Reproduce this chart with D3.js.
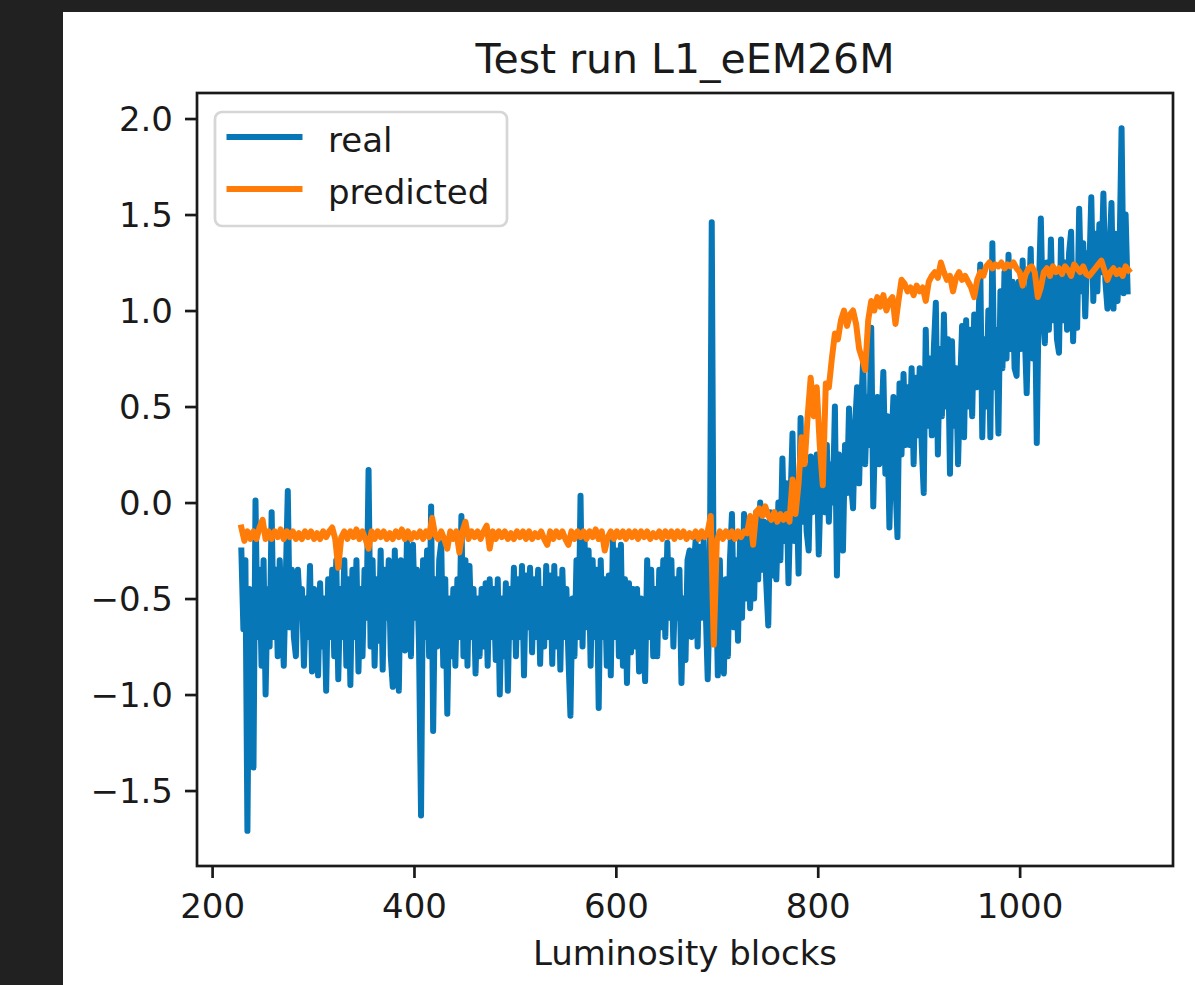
<!DOCTYPE html>
<html><head><meta charset="utf-8">
<script src="https://cdn.jsdelivr.net/npm/d3@7"></script>
<style>html,body{margin:0;padding:0;background:#212121;}svg{display:block}</style>
</head><body>
<svg id="chart" width="1195" height="985"></svg>
<script>
const chartTitle = "Test run L1_eEM26M";
const xLabel = "Luminosity blocks";
const seriesNames = ["real", "predicted"];
const realStart = 229, realStep = 2;
const predStart = 229, predStep = 3;
const xTicks = [200, 400, 600, 800, 1000];
const yTicks = [-1.5, -1.0, -0.5, 0.0, 0.5, 1.0, 1.5, 2.0];

const realValues = [
 -0.25,-0.66,-0.3,-1.71,-0.45,-0.75,-1.38,0.01,-0.7,-0.35,-0.85,-0.3,-1.0,-0.45,-0.75,
 -0.05,-0.7,-0.35,-0.8,-0.3,-0.6,-0.85,-0.4,0.06,-0.65,-0.35,-0.7,-0.8,-0.35,-0.55,
 -0.45,-0.85,-0.5,-0.7,-0.33,-0.88,-0.45,-0.65,-0.9,-0.42,-0.75,-0.5,-0.98,-0.4,-0.7,
 -0.35,-0.8,-0.3,-0.92,-0.45,-0.7,-0.3,-0.85,-0.4,-0.95,-0.35,-0.7,-0.3,-0.88,-0.45,
 -0.8,-0.35,-0.6,0.17,-0.75,-0.3,-0.85,-0.4,-0.72,-0.25,-0.87,-0.35,-0.6,-0.3,-0.8,
 -0.96,-0.25,-0.7,-0.98,-0.3,-0.6,-0.77,-0.2,-0.55,-0.8,-0.22,-0.6,-0.35,-0.75,-1.63,
 -0.3,-0.7,-0.25,-0.8,-0.02,-1.19,-0.4,-0.75,-0.3,-0.21,-0.85,-0.4,-1.1,-0.5,-0.8,
 -0.45,-0.85,-0.4,-0.7,-0.07,-0.8,-0.3,-0.85,-0.33,-0.7,-0.45,-0.89,-0.5,-0.8,-0.45,
 -0.75,-0.42,-0.85,-0.4,-0.7,-0.45,-0.82,-0.4,-1.0,-0.5,-0.8,-0.42,-0.98,-0.45,-0.7,
 -0.34,-0.8,-0.4,-0.7,-0.33,-0.9,-0.38,-0.65,-0.34,-0.78,-0.4,-0.7,-0.35,-0.84,-0.45,
 -0.75,-0.33,-0.7,-0.38,-0.84,-0.33,-0.75,-0.4,-0.87,-0.35,-0.7,-0.45,-0.8,-1.11,-0.5,
 -0.8,-0.3,-0.7,0.035,-0.75,-0.2,-0.65,-0.25,-0.85,-0.3,-0.7,-0.35,-1.07,-0.3,-0.7,
 -0.4,-0.85,-0.38,-0.9,-0.2,-0.7,-0.25,-0.8,-0.22,-0.85,-0.4,-0.94,-0.42,-0.78,-0.45,
 -0.75,-0.45,-0.88,-0.5,-0.7,-0.93,-0.3,-0.7,-0.35,-0.8,-0.45,-0.8,-0.35,-0.65,-0.3,
 -0.7,-0.21,-0.6,-0.3,-0.75,-0.4,-0.6,-0.35,-0.94,-0.5,-0.82,-0.3,-0.25,-0.7,-0.35,
 -0.2,-0.75,-0.23,-0.6,-0.2,-0.55,-0.92,-0.5,1.46,-0.6,-0.3,-0.9,-0.3,-0.8,-0.89,
 -0.4,-0.8,-0.3,-0.06,-0.65,-0.3,-0.72,-0.2,-0.6,-0.06,-0.5,-0.1,-0.55,-0.2,-0.5,
 -0.05,-0.4,0.0,-0.35,-0.1,-0.42,-0.64,-0.05,-0.38,-0.1,-0.4,0.0,-0.3,0.23,-0.2,
 0.1,-0.42,0.0,0.36,-0.2,0.1,-0.37,0.44,-0.1,0.2,-0.15,-0.25,0.24,-0.05,0.15,
 0.25,-0.27,0.1,0.28,-0.05,0.3,-0.1,0.2,0.0,0.5,-0.38,0.25,0.0,-0.25,0.3,
 0.05,0.49,0.1,-0.03,0.4,0.6,0.1,0.5,0.74,0.2,0.55,0.3,0.91,-0.02,0.4,
 0.55,0.2,0.4,0.68,0.15,0.45,-0.13,0.3,0.55,0.1,-0.18,0.62,0.25,0.67,0.3,
 0.6,0.3,0.7,0.2,0.65,0.35,0.7,0.3,0.05,0.9,0.4,0.75,0.35,0.8,1.04,
 0.25,0.8,0.45,0.98,0.5,0.85,0.15,0.84,0.4,0.7,0.2,0.6,0.92,0.34,0.95,
 0.5,0.9,0.45,0.98,0.6,0.9,1.24,0.34,0.85,0.5,1.0,0.34,1.35,0.6,0.9,
 0.36,1.1,0.7,1.2,0.75,1.29,0.8,1.15,0.7,0.66,1.15,0.8,1.26,0.9,0.57,
 1.0,1.32,0.75,1.15,0.31,1.1,1.48,1.0,0.83,1.25,0.9,1.37,0.95,1.2,0.85,
 0.78,1.37,0.95,1.25,0.9,1.3,1.41,0.84,1.2,0.91,1.53,1.1,1.35,0.97,1.3,
 1.2,1.59,1.05,1.4,1.1,1.45,1.2,1.61,1.15,1.01,1.3,1.56,1.01,1.4,1.05,
 1.3,1.95,1.09,1.5,1.1
];

const predictedValues = [
 -0.13,-0.2,-0.15,-0.19,-0.15,-0.19,-0.13,-0.09,-0.19,-0.15,
 -0.19,-0.15,-0.18,-0.14,-0.19,-0.15,-0.18,-0.15,-0.19,-0.16,
 -0.19,-0.15,-0.18,-0.15,-0.19,-0.16,-0.19,-0.15,-0.18,-0.15,
 -0.13,-0.19,-0.34,-0.18,-0.15,-0.19,-0.15,-0.18,-0.14,-0.19,
 -0.15,-0.19,-0.24,-0.15,-0.19,-0.15,-0.18,-0.15,-0.19,-0.16,
 -0.19,-0.15,-0.18,-0.14,-0.19,-0.15,-0.19,-0.16,-0.18,-0.15,
 -0.19,-0.15,-0.18,-0.08,-0.17,-0.19,-0.15,-0.19,-0.24,-0.15,
 -0.19,-0.15,-0.26,-0.15,-0.1,-0.19,-0.15,-0.18,-0.15,-0.19,
 -0.15,-0.12,-0.24,-0.15,-0.19,-0.15,-0.18,-0.15,-0.19,-0.16,
 -0.19,-0.15,-0.18,-0.15,-0.19,-0.15,-0.19,-0.16,-0.18,-0.15,
 -0.19,-0.22,-0.15,-0.19,-0.15,-0.18,-0.15,-0.19,-0.22,-0.15,
 -0.19,-0.15,-0.18,-0.15,-0.19,-0.15,-0.18,-0.14,-0.19,-0.15,
 -0.25,-0.18,-0.15,-0.19,-0.15,-0.18,-0.15,-0.19,-0.15,-0.18,
 -0.15,-0.19,-0.15,-0.18,-0.15,-0.19,-0.16,-0.18,-0.15,-0.19,
 -0.15,-0.18,-0.15,-0.19,-0.15,-0.18,-0.15,-0.19,-0.16,-0.18,
 -0.15,-0.19,-0.15,-0.18,-0.15,-0.07,-0.74,-0.2,-0.15,-0.19,
 -0.15,-0.18,-0.15,-0.19,-0.15,-0.18,-0.15,-0.16,-0.07,-0.22,
 -0.05,-0.03,-0.07,-0.02,-0.07,-0.09,-0.05,-0.1,-0.06,-0.09,
 -0.06,-0.1,0.12,-0.06,0.1,0.34,0.2,0.45,0.65,0.45,
 0.6,0.3,0.09,0.62,0.6,0.75,0.88,0.85,0.95,1.0,
 0.92,0.98,1.0,0.93,0.8,0.75,0.69,0.95,1.05,1.0,
 1.07,1.02,1.08,1.0,1.05,1.07,0.93,1.05,1.16,1.14,
 1.1,1.12,1.08,1.13,1.1,1.12,1.05,1.15,1.18,1.2,
 1.17,1.25,1.2,1.16,1.18,1.1,1.17,1.2,1.16,1.18,
 1.15,1.12,1.07,1.16,1.2,1.18,1.23,1.25,1.22,1.24,
 1.23,1.25,1.22,1.24,1.23,1.25,1.22,1.2,1.13,1.19,
 1.22,1.23,1.2,1.07,1.12,1.2,1.22,1.18,1.23,1.2,
 1.22,1.19,1.23,1.21,1.18,1.24,1.22,1.2,1.23,1.19,
 1.18,1.2,1.22,1.24,1.26,1.21,1.16,1.2,1.22,1.19,
 1.21,1.18,1.23,1.21
];

const colors = ["#0877b7", "#ff7c08"];
const FONT = "'DejaVu Sans', sans-serif";
const TEXT = "#1a1a1a";

const svg = d3.select("#chart");
svg.append("rect").attr("x", 63).attr("y", 12).attr("width", 1195 - 63).attr("height", 985 - 12).attr("fill", "#ffffff");

const L = 197, R = 1173, T = 93, B = 866;
const realX = realValues.map((d, i) => realStart + i * realStep);
const predX = predictedValues.map((d, i) => predStart + i * predStep);
const allX = realX.concat(predX);
const xMin = d3.min(allX), xMax = d3.max(allX), xr = xMax - xMin;
const allY = realValues.concat(predictedValues);
const yMin = d3.min(allY), yMax = d3.max(allY), yr = yMax - yMin;

const x = d3.scaleLinear().domain([xMin - 0.05 * xr, xMax + 0.05 * xr]).range([L, R]);
const y = d3.scaleLinear().domain([yMin - 0.05 * yr, yMax + 0.05 * yr]).range([B, T]);

const sw = 6;
const realLine = d3.line().x((d, i) => x(realX[i])).y(d => y(d));
const predLine = d3.line().x((d, i) => x(predX[i])).y(d => y(d));

svg.append("path").datum(realValues).attr("d", realLine).attr("fill", "none")
  .attr("stroke", colors[0]).attr("stroke-width", sw).attr("stroke-linejoin", "round").attr("stroke-linecap", "square");
svg.append("path").datum(predictedValues).attr("d", predLine).attr("fill", "none")
  .attr("stroke", colors[1]).attr("stroke-width", sw).attr("stroke-linejoin", "round").attr("stroke-linecap", "square");

// axes
const xAxis = svg.append("g").attr("transform", `translate(0,${B})`)
  .call(d3.axisBottom(x).tickValues(xTicks).tickSize(12).tickPadding(12).tickFormat(d3.format("d")));
const yAxis = svg.append("g").attr("transform", `translate(${L},0)`)
  .call(d3.axisLeft(y).tickValues(yTicks).tickSize(12).tickPadding(12).tickFormat(d3.format(".1f")));
[xAxis, yAxis].forEach(g => {
  g.select(".domain").remove();
  g.selectAll(".tick line").attr("stroke", TEXT).attr("stroke-width", 2.7);
  g.selectAll(".tick text").attr("fill", TEXT).style("font-family", FONT).style("font-size", "34px");
});
xAxis.selectAll(".tick text").attr("dy", null).attr("y", 52);
yAxis.selectAll(".tick text").attr("dy", "0.36em");

// frame
svg.append("rect").attr("x", L).attr("y", T).attr("width", R - L).attr("height", B - T)
  .attr("fill", "none").attr("stroke", TEXT).attr("stroke-width", 2.7);

// labels
svg.append("text").attr("x", (L + R) / 2).attr("y", 73).attr("text-anchor", "middle")
  .style("font-family", FONT).style("font-size", "41px").attr("fill", TEXT).text(chartTitle);
svg.append("text").attr("x", (L + R) / 2).attr("y", 965).attr("text-anchor", "middle")
  .style("font-family", FONT).style("font-size", "34px").attr("fill", TEXT).text(xLabel);

// legend
const lg = svg.append("g");
lg.append("rect").attr("x", 215).attr("y", 112).attr("width", 292).attr("height", 114).attr("rx", 7)
  .attr("fill", "#ffffff").attr("fill-opacity", 0.8).attr("stroke", "#cccccc").attr("stroke-opacity", 0.8).attr("stroke-width", 2.7);
const legY = [137, 189];
seriesNames.forEach((name, i) => {
  lg.append("line").attr("x1", 229.5).attr("x2", 299.5).attr("y1", legY[i]).attr("y2", legY[i])
    .attr("stroke", colors[i]).attr("stroke-width", sw).attr("stroke-linecap", "square");
  lg.append("text").attr("x", 328).attr("y", legY[i] + 14.8)
    .style("font-family", FONT).style("font-size", "34px").attr("fill", TEXT).text(name);
});
</script>
</body></html>
